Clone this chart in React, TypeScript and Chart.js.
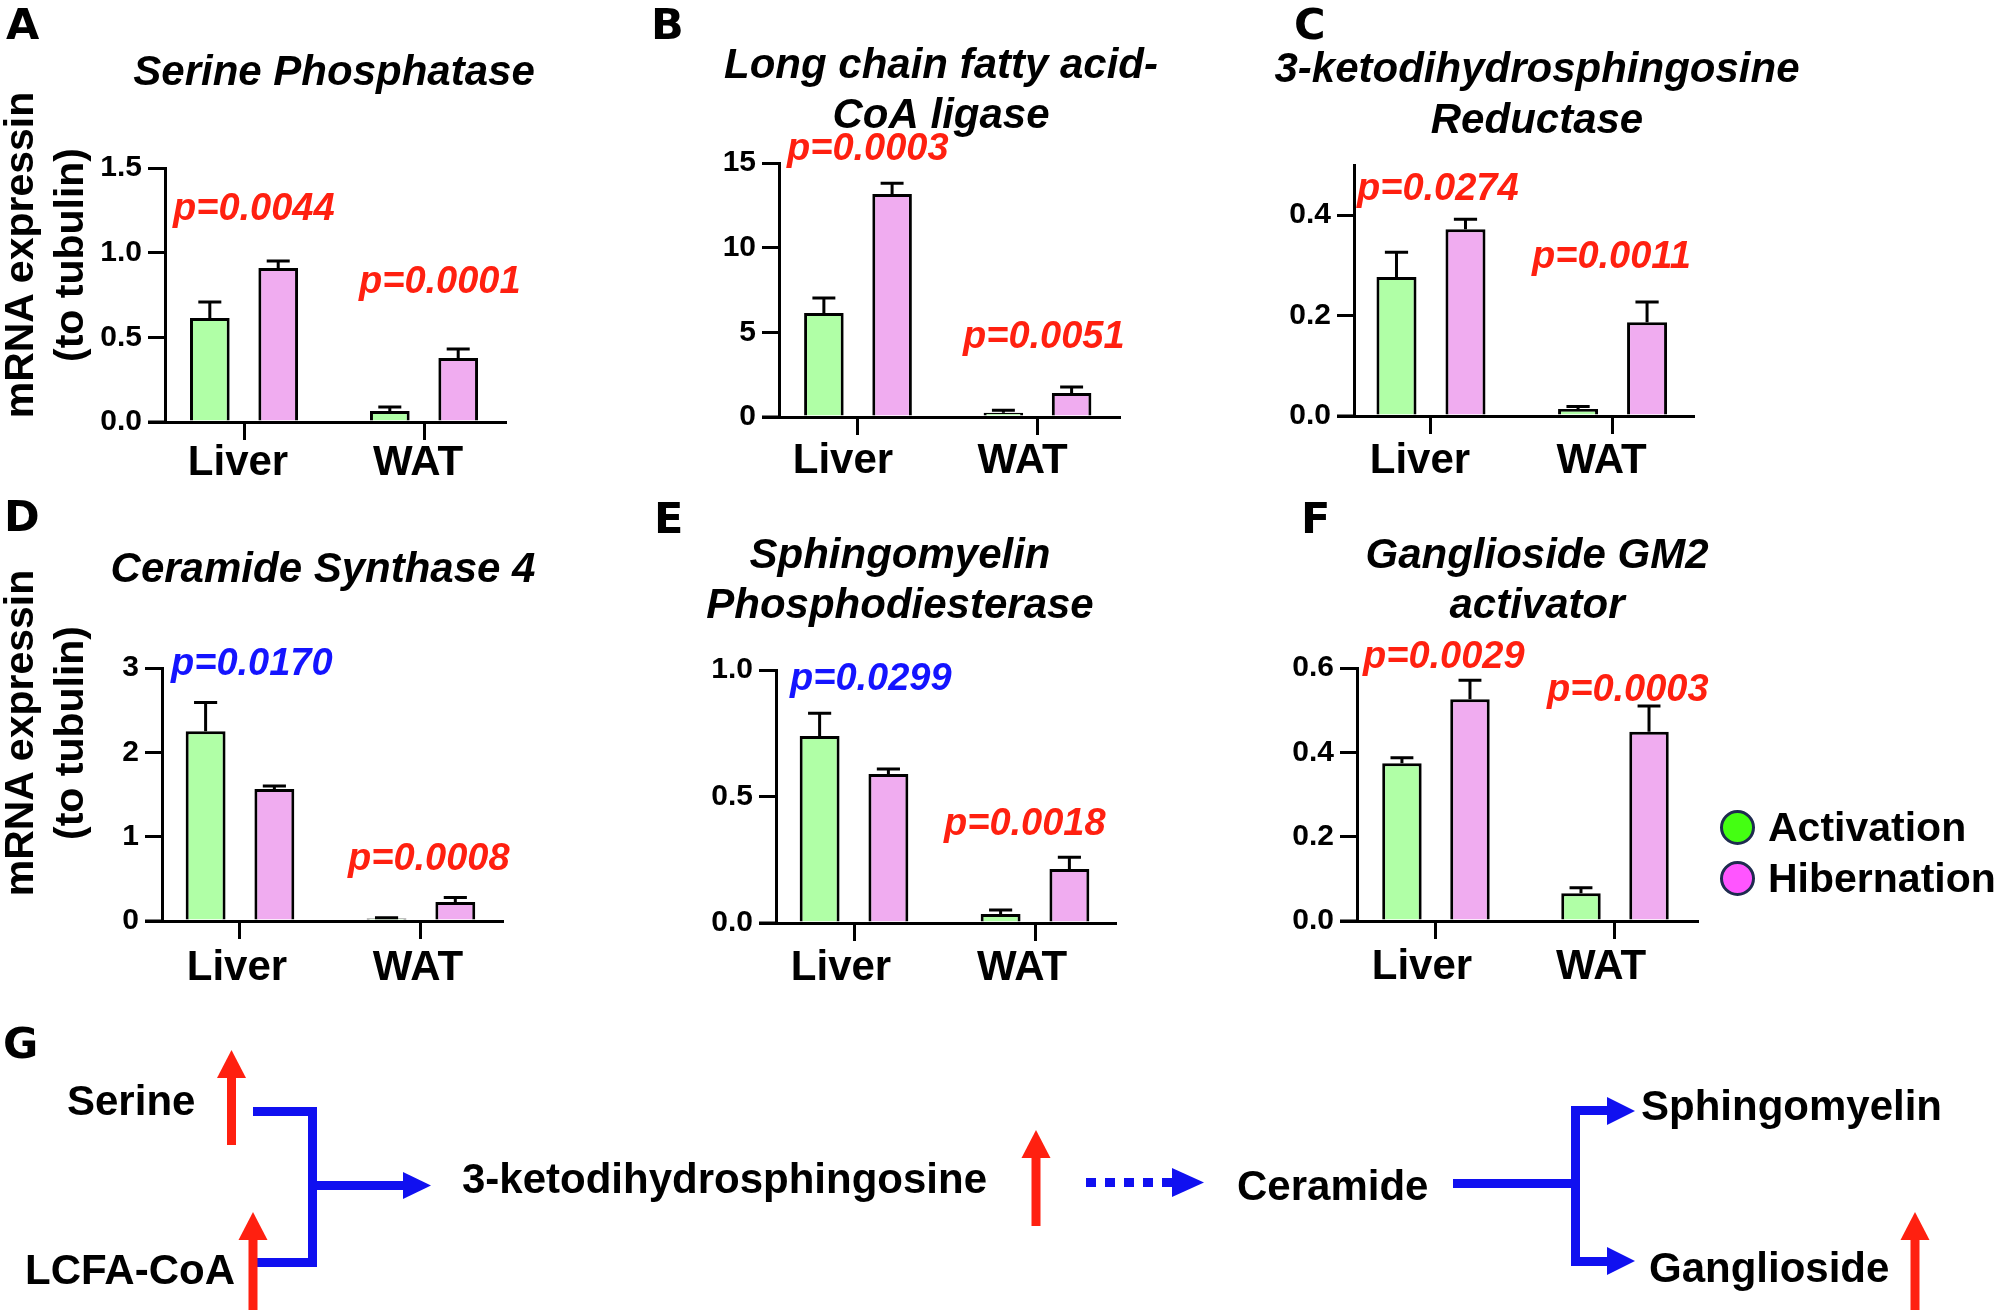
import React, { useEffect, useRef } from 'react';
import { Chart, registerables } from 'chart.js';

Chart.register(...registerables);

const FONT = '"Liberation Sans", Arial, Helvetica, sans-serif';
const LETTER_FONT = '"DejaVu Sans", "Liberation Sans", Arial, sans-serif';
Chart.defaults.font.family = FONT;

// ---------- shared data ----------
const CATEGORIES = ['Liver', 'WAT'];
const SERIES = ['Activation', 'Hibernation'];
const Y_AXIS_TITLE = ['mRNA expressin', '(to tubulin)'];

// ---------- A ----------
const A_TITLE = ['Serine Phosphatase'];
const A_ACTIVATION = [0.614, 0.065];
const A_ACTIVATION_SD = [0.095, 0.024];
const A_HIBERNATION = [0.909, 0.378];
const A_HIBERNATION_SD = [0.042, 0.053];
const A_Y_TICKS = [0, 0.5, 1.0, 1.5];
const A_Y_TICK_LABELS = ['0.0', '0.5', '1.0', '1.5'];
const A_P_VALUES = ['p=0.0044', 'p=0.0001'];

// ---------- B ----------
const B_TITLE = ['Long chain fatty acid-', 'CoA ligase'];
const B_ACTIVATION = [6.14, 0.25];
const B_ACTIVATION_SD = [0.89, 0.15];
const B_HIBERNATION = [13.17, 1.42];
const B_HIBERNATION_SD = [0.63, 0.35];
const B_Y_TICKS = [0, 5, 10, 15];
const B_Y_TICK_LABELS = ['0', '5', '10', '15'];
const B_P_VALUES = ['p=0.0003', 'p=0.0051'];

// ---------- C ----------
const C_TITLE = ['3-ketodihydrosphingosine', 'Reductase'];
const C_ACTIVATION = [0.277, 0.014];
const C_ACTIVATION_SD = [0.049, 0.005];
const C_HIBERNATION = [0.372, 0.187];
const C_HIBERNATION_SD = [0.02, 0.04];
const C_Y_TICKS = [0, 0.2, 0.4];
const C_Y_TICK_LABELS = ['0.0', '0.2', '0.4'];
const C_P_VALUES = ['p=0.0274', 'p=0.0011'];

// ---------- D ----------
const D_TITLE = ['Ceramide Synthase 4'];
const D_ACTIVATION = [2.25, 0.03];
const D_ACTIVATION_SD = [0.34, 0.01];
const D_HIBERNATION = [1.566, 0.225];
const D_HIBERNATION_SD = [0.035, 0.055];
const D_Y_TICKS = [0, 1, 2, 3];
const D_Y_TICK_LABELS = ['0', '1', '2', '3'];
const D_P_VALUES = ['p=0.0170', 'p=0.0008'];

// ---------- E ----------
const E_TITLE = ['Sphingomyelin', 'Phosphodiesterase'];
const E_ACTIVATION = [0.739, 0.036];
const E_ACTIVATION_SD = [0.09, 0.015];
const E_HIBERNATION = [0.589, 0.213];
const E_HIBERNATION_SD = [0.02, 0.047];
const E_Y_TICKS = [0, 0.5, 1.0];
const E_Y_TICK_LABELS = ['0.0', '0.5', '1.0'];
const E_P_VALUES = ['p=0.0299', 'p=0.0018'];

// ---------- F ----------
const F_TITLE = ['Ganglioside GM2', 'activator'];
const F_ACTIVATION = [0.374, 0.066];
const F_ACTIVATION_SD = [0.013, 0.013];
const F_HIBERNATION = [0.526, 0.449];
const F_HIBERNATION_SD = [0.045, 0.061];
const F_Y_TICKS = [0, 0.2, 0.4, 0.6];
const F_Y_TICK_LABELS = ['0.0', '0.2', '0.4', '0.6'];
const F_P_VALUES = ['p=0.0029', 'p=0.0003'];

// ---------- pathway text ----------
const PATHWAY_NODES = ['Serine', 'LCFA-CoA', '3-ketodihydrosphingosine', 'Ceramide', 'Sphingomyelin', 'Ganglioside'];

// ---------- styles ----------
const GREEN = '#b0ffa6';
const PINK = '#f0acf0';
const RED = '#ff2010';
const BLUE = '#1414ff';
const PATH_BLUE = '#1010f0';

type PanelCfg = {
  id: string;
  canvas: [number, number, number, number];
  area: [number, number, number, number];
  xRange: [number, number];
  yMax: number;
  yTicks: number[];
  yTickLabels: string[];
  act: number[];
  actSd: number[];
  hib: number[];
  hibSd: number[];
  title: string[];
  titleX: number;
  titleY: number[];
  pValues: string[];
  pPos: [number, number][];
  pColors: string[];
  xPad: number;
  xLabelShift: number;
};

const PANELS: PanelCfg[] = [
  {
    id: 'A', canvas: [0, 0, 630, 490], area: [165, 168, 505, 422], xRange: [-0.439, 1.45],
    yMax: 1.5, yTicks: A_Y_TICKS, yTickLabels: A_Y_TICK_LABELS,
    act: A_ACTIVATION, actSd: A_ACTIVATION_SD, hib: A_HIBERNATION, hibSd: A_HIBERNATION_SD,
    title: A_TITLE, titleX: 334, titleY: [85],
    pValues: A_P_VALUES, pPos: [[173, 220], [359, 293]], pColors: [RED, RED], xPad: 2, xLabelShift: -6,
  },
  {
    id: 'B', canvas: [640, 0, 610, 490], area: [779, 163, 1119, 417], xRange: [-0.44, 1.454],
    yMax: 15, yTicks: B_Y_TICKS, yTickLabels: B_Y_TICK_LABELS,
    act: B_ACTIVATION, actSd: B_ACTIVATION_SD, hib: B_HIBERNATION, hibSd: B_HIBERNATION_SD,
    title: B_TITLE, titleX: 941, titleY: [78, 128],
    pValues: B_P_VALUES, pPos: [[787, 160], [963, 348]], pColors: [RED, RED], xPad: 5, xLabelShift: -15,
  },
  {
    id: 'C', canvas: [1250, 0, 560, 490], area: [1354, 165, 1693, 416], xRange: [-0.424, 1.443],
    yMax: 0.5, yTicks: C_Y_TICKS, yTickLabels: C_Y_TICK_LABELS,
    act: C_ACTIVATION, actSd: C_ACTIVATION_SD, hib: C_HIBERNATION, hibSd: C_HIBERNATION_SD,
    title: C_TITLE, titleX: 1537, titleY: [82, 133],
    pValues: C_P_VALUES, pPos: [[1357, 200], [1532, 268]], pColors: [RED, RED], xPad: 6, xLabelShift: -11,
  },
  {
    id: 'D', canvas: [0, 490, 630, 500], area: [162, 668, 502, 921], xRange: [-0.431, 1.448],
    yMax: 3, yTicks: D_Y_TICKS, yTickLabels: D_Y_TICK_LABELS,
    act: D_ACTIVATION, actSd: D_ACTIVATION_SD, hib: D_HIBERNATION, hibSd: D_HIBERNATION_SD,
    title: D_TITLE, titleX: 323, titleY: [582],
    pValues: D_P_VALUES, pPos: [[171, 675], [348, 870]], pColors: [BLUE, RED], xPad: 8, xLabelShift: -3,
  },
  {
    id: 'E', canvas: [640, 490, 610, 500], area: [776, 670, 1115, 923], xRange: [-0.431, 1.442],
    yMax: 1.0, yTicks: E_Y_TICKS, yTickLabels: E_Y_TICK_LABELS,
    act: E_ACTIVATION, actSd: E_ACTIVATION_SD, hib: E_HIBERNATION, hibSd: E_HIBERNATION_SD,
    title: E_TITLE, titleX: 900, titleY: [568, 618],
    pValues: E_P_VALUES, pPos: [[790, 690], [944, 835]], pColors: [BLUE, RED], xPad: 6, xLabelShift: -13,
  },
  {
    id: 'F', canvas: [1250, 490, 480, 500], area: [1357, 668, 1697, 921], xRange: [-0.441, 1.458],
    yMax: 0.6, yTicks: F_Y_TICKS, yTickLabels: F_Y_TICK_LABELS,
    act: F_ACTIVATION, actSd: F_ACTIVATION_SD, hib: F_HIBERNATION, hibSd: F_HIBERNATION_SD,
    title: F_TITLE, titleX: 1537, titleY: [568, 618],
    pValues: F_P_VALUES, pPos: [[1363, 668], [1547, 701]], pColors: [RED, RED], xPad: 7, xLabelShift: -14,
  },
];

const Y_TICK_LEN = 17;
const X_TICK_LEN = 18;
const AXIS_W = 3;

function BarPanel({ cfg }: { cfg: PanelCfg }) {
  const ref = useRef<HTMLCanvasElement | null>(null);
  const [cl, ct, cw, ch] = cfg.canvas;

  useEffect(() => {
    const canvas = ref.current;
    if (!canvas) return;
    const [L, T, R, B] = cfg.area;
    const sds = [cfg.actSd, cfg.hibSd];

    const overlay = {
      id: 'overlay_' + cfg.id,
      afterDatasetsDraw(chart: any) {
        const ctx = chart.ctx;
        const yScale = chart.scales.y;
        ctx.save();
        ctx.strokeStyle = '#000';
        ctx.lineWidth = AXIS_W;
        ctx.lineCap = 'butt';
        chart.data.datasets.forEach((ds: any, di: number) => {
          const meta = chart.getDatasetMeta(di);
          meta.data.forEach((bar: any, i: number) => {
            const v = ds.data[i].y;
            const top = yScale.getPixelForValue(v + sds[di][i]);
            const cap = bar.width * 0.58;
            ctx.beginPath();
            ctx.moveTo(bar.x, bar.y);
            ctx.lineTo(bar.x, top);
            ctx.moveTo(bar.x - cap / 2, top);
            ctx.lineTo(bar.x + cap / 2, top);
            ctx.stroke();
          });
        });
        ctx.restore();
      },
      afterDraw(chart: any) {
        const ctx = chart.ctx;
        const area = chart.chartArea;
        ctx.save();
        // x axis extends left of the y axis (Prism style)
        ctx.strokeStyle = '#000';
        ctx.lineWidth = AXIS_W;
        ctx.beginPath();
        ctx.moveTo(area.left - Y_TICK_LEN, area.bottom);
        ctx.lineTo(area.left, area.bottom);
        ctx.stroke();
        // title
        ctx.fillStyle = '#000';
        ctx.font = `italic bold 42px ${FONT}`;
        ctx.textAlign = 'center';
        ctx.textBaseline = 'alphabetic';
        cfg.title.forEach((line, i) => {
          ctx.fillText(line, cfg.titleX - cl, cfg.titleY[i] - ct);
        });
        // p-values
        ctx.font = `italic bold 38px ${FONT}`;
        ctx.textAlign = 'left';
        cfg.pValues.forEach((p, i) => {
          ctx.fillStyle = cfg.pColors[i];
          ctx.fillText(p, cfg.pPos[i][0] - cl, cfg.pPos[i][1] - ct);
        });
        ctx.restore();
      },
    };

    const chart = new Chart(canvas, {
      type: 'bar',
      data: {
        datasets: [
          {
            label: SERIES[0],
            data: cfg.act.map((v, i) => ({ x: i, y: v })),
            backgroundColor: GREEN,
            borderColor: '#000',
            borderWidth: AXIS_W,
            borderSkipped: 'start',
            categoryPercentage: 0.76,
            barPercentage: 0.58,
          },
          {
            label: SERIES[1],
            data: cfg.hib.map((v, i) => ({ x: i, y: v })),
            backgroundColor: PINK,
            borderColor: '#000',
            borderWidth: AXIS_W,
            borderSkipped: 'start',
            categoryPercentage: 0.76,
            barPercentage: 0.58,
          },
        ],
      } as any,
      options: {
        responsive: false,
        maintainAspectRatio: false,
        animation: false,
        devicePixelRatio: 1,
        layout: { padding: { left: 0, top: T - ct, right: cl + cw - R, bottom: 0 } },
        plugins: {
          legend: { display: false },
          title: { display: false },
          tooltip: { enabled: false },
        },
        events: [],
        scales: {
          x: {
            type: 'linear',
            offset: false,
            min: cfg.xRange[0],
            max: cfg.xRange[1],
            afterBuildTicks: (s: any) => {
              s.ticks = CATEGORIES.map((_, i) => ({ value: i }));
            },
            afterFit: (s: any) => {
              s.height = ct + ch - B;
            },
            ticks: {
              autoSkip: false,
              maxRotation: 0,
              minRotation: 0,
              padding: cfg.xPad,
              labelOffset: cfg.xLabelShift,
              color: '#000',
              font: { family: FONT, size: 42, weight: 'bold', lineHeight: 1 },
              callback: (v: any) => CATEGORIES[Math.round(Number(v))] ?? '',
            },
            grid: {
              display: true,
              offset: false,
              drawOnChartArea: false,
              drawTicks: true,
              tickLength: X_TICK_LEN,
              tickWidth: AXIS_W,
              tickColor: '#000',
              lineWidth: AXIS_W,
              color: '#000',
            },
            border: { display: true, color: '#000', width: AXIS_W },
          },
          y: {
            type: 'linear',
            min: 0,
            max: cfg.yMax,
            bounds: 'data',
            afterBuildTicks: (s: any) => {
              s.ticks = cfg.yTicks.map((v) => ({ value: v }));
            },
            afterFit: (s: any) => {
              s.width = L - cl;
            },
            ticks: {
              padding: 6,
              color: '#000',
              font: { family: FONT, size: 30, weight: 'bold', lineHeight: 1.2 },
              callback: (v: any, i: number) => cfg.yTickLabels[i],
            },
            grid: {
              display: true,
              drawOnChartArea: false,
              drawTicks: true,
              tickLength: Y_TICK_LEN,
              tickWidth: AXIS_W,
              tickColor: '#000',
              lineWidth: AXIS_W,
              color: '#000',
            },
            border: { display: true, color: '#000', width: AXIS_W },
          },
        },
      } as any,
      plugins: [overlay],
    });
    return () => chart.destroy();
  }, [cfg]);

  return (
    <canvas
      ref={ref}
      width={cw}
      height={ch}
      style={{ position: 'absolute', left: cl, top: ct, width: cw, height: ch }}
    />
  );
}

function Txt({ x, y, size, children, color = '#000', family = FONT }: { x: number; y: number; size: number; children: React.ReactNode; color?: string; family?: string }) {
  const asc = family === LETTER_FONT ? 0.928 : 0.905;
  const desc = family === LETTER_FONT ? 0.236 : 0.212;
  const baseOff = (1 - asc - desc) / 2 + asc;
  return (
    <div
      style={{
        position: 'absolute',
        left: x,
        top: y - baseOff * size,
        fontSize: size,
        lineHeight: `${size}px`,
        fontWeight: 'bold',
        fontFamily: family,
        color,
        whiteSpace: 'nowrap',
      }}
    >
      {children}
    </div>
  );
}

function YLabel({ cy }: { cy: number }) {
  return (
    <div
      style={{
        position: 'absolute',
        left: 43.8 - 200,
        top: cy - 50,
        width: 400,
        height: 100,
        transform: 'rotate(-90deg)',
        fontFamily: FONT,
        fontWeight: 'bold',
        fontSize: 41,
        lineHeight: '50px',
        textAlign: 'center',
        whiteSpace: 'nowrap',
        color: '#000',
      }}
    >
      {Y_AXIS_TITLE.map((t) => (
        <div key={t}>{t}</div>
      ))}
    </div>
  );
}

function Legend() {
  const items = [
    { label: SERIES[0], color: '#44ff12', cy: 827 },
    { label: SERIES[1], color: '#ff55ff', cy: 878 },
  ];
  return (
    <>
      {items.map((it) => (
        <React.Fragment key={it.label}>
          <div
            style={{
              position: 'absolute',
              left: 1737 - 17.5,
              top: it.cy - 17.5,
              width: 35,
              height: 35,
              boxSizing: 'border-box',
              borderRadius: '50%',
              border: '3px solid #1e2b4f',
              background: it.color,
            }}
          />
          <Txt x={1768} y={it.cy + 15} size={41}>
            {it.label}
          </Txt>
        </React.Fragment>
      ))}
    </>
  );
}

function UpArrow({ x, tip, bottom }: { x: number; tip: number; bottom: number }) {
  const headH = 28;
  const headW = 29;
  return (
    <g fill={RED}>
      <rect x={x - 4.5} y={tip + headH - 1} width={9} height={bottom - tip - headH + 1} />
      <polygon points={`${x - headW / 2},${tip + headH} ${x},${tip} ${x + headW / 2},${tip + headH}`} />
    </g>
  );
}

function Pathway() {
  return (
    <svg width={2000} height={1310} style={{ position: 'absolute', left: 0, top: 0 }}>
      <g fontFamily={FONT} fontWeight="bold" fontSize={42} fill="#000">
        <text x={67} y={1115}>{PATHWAY_NODES[0]}</text>
        <text x={25} y={1284}>{PATHWAY_NODES[1]}</text>
        <text x={462} y={1193}>{PATHWAY_NODES[2]}</text>
        <text x={1237} y={1200}>{PATHWAY_NODES[3]}</text>
        <text x={1641} y={1120}>{PATHWAY_NODES[4]}</text>
        <text x={1649} y={1282}>{PATHWAY_NODES[5]}</text>
      </g>
      {/* serine + LCFA-CoA merge */}
      <path d="M253 1111.5 H312.5 V1262.5 H257" stroke={PATH_BLUE} strokeWidth={9} fill="none" strokeLinejoin="miter" />
      <line x1={312.5} y1={1185.5} x2={404} y2={1185.5} stroke={PATH_BLUE} strokeWidth={9} />
      <polygon points="403,1172 431,1185.5 403,1199" fill={PATH_BLUE} />
      {/* dotted arrow to ceramide */}
      <line x1={1086} y1={1182.5} x2={1172} y2={1182.5} stroke={PATH_BLUE} strokeWidth={9} strokeDasharray="10 9" />
      <polygon points="1172,1168 1204,1182.5 1172,1197" fill={PATH_BLUE} />
      {/* ceramide branch */}
      <line x1={1453} y1={1183.5} x2={1576} y2={1183.5} stroke={PATH_BLUE} strokeWidth={9} />
      <path d="M1608 1110.5 H1575.5 V1261.5 H1608" stroke={PATH_BLUE} strokeWidth={9} fill="none" strokeLinejoin="miter" />
      <polygon points="1607,1097 1635,1111 1607,1125" fill={PATH_BLUE} />
      <polygon points="1607,1247 1635,1261 1607,1275" fill={PATH_BLUE} />
      {/* red up arrows */}
      <UpArrow x={231.5} tip={1050} bottom={1145} />
      <UpArrow x={253} tip={1212} bottom={1310} />
      <UpArrow x={1036} tip={1130} bottom={1226} />
      <UpArrow x={1915} tip={1212} bottom={1310} />
    </svg>
  );
}

export default function App() {
  const letters: [string, number, number][] = [
    ['A', 6, 39],
    ['B', 651, 39],
    ['C', 1294, 39],
    ['D', 4, 531],
    ['E', 654, 533],
    ['F', 1301, 533],
    ['G', 3, 1058],
  ];
  return (
    <div
      style={{
        position: 'absolute',
        left: 0,
        top: 0,
        width: 2000,
        height: 1310,
        background: '#ffffff',
        overflow: 'hidden',
        fontFamily: FONT,
      }}
    >
      {PANELS.map((p) => (
        <BarPanel key={p.id} cfg={p} />
      ))}
      <YLabel cy={255} />
      <YLabel cy={733} />
      <Legend />
      <Pathway />
      {letters.map(([l, x, y]) => (
        <Txt key={l} x={x} y={y} size={43} family={LETTER_FONT}>
          {l}
        </Txt>
      ))}
    </div>
  );
}
